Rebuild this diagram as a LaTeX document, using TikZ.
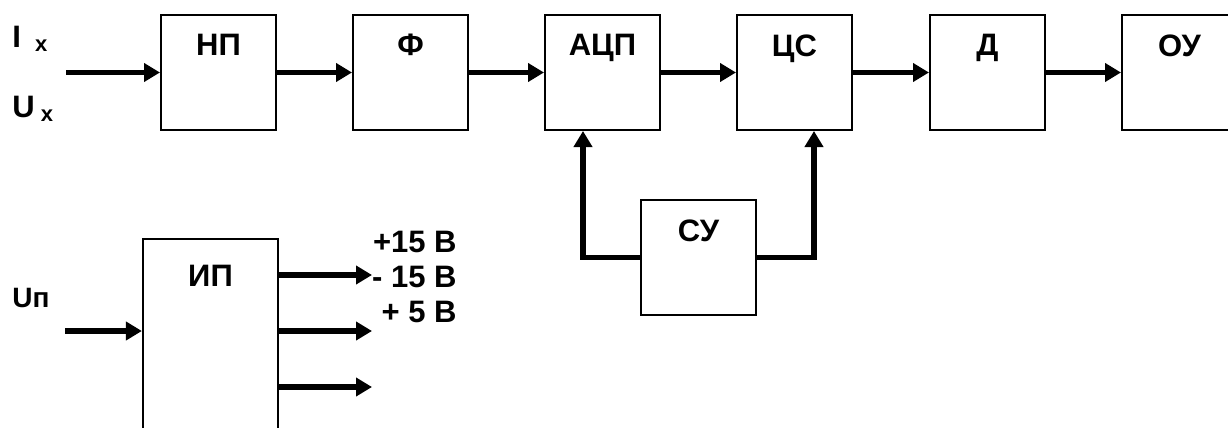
\documentclass[tikz,border=0pt]{standalone}
\usepackage{fontspec}
\setmainfont{Liberation Sans}
\usetikzlibrary{arrows.meta,positioning,calc}
\definecolor{bdink}{HTML}{000000}
\tikzset{
  blk/.style={rectangle,draw=bdink,line width=1.1pt,fill=white,
              minimum width=57.4pt,minimum height=57.4pt,inner sep=0pt},
  blkname/.style={anchor=north,inner sep=0pt,
                  font=\fontsize{15.5}{18}\selectfont\bfseries,text=bdink},
  lbl/.style={inner sep=0pt,font=\fontsize{15.5}{18}\selectfont\bfseries,text=bdink},
  sig/.style={-{Triangle[length=8pt,width=9pt]},line width=2.9pt,draw=bdink},
}
\newcommand{\lowsub}[1]{\raisebox{-2pt}{\fontsize{11}{12}\selectfont #1}}

\begin{document}
\begin{tikzpicture}[x=0.5pt,y=-0.5pt]
  \useasboundingbox (0,0) rectangle (1228,428);
  \node[blk,label={[blkname,yshift=-10pt]north:НП}]  (np)  at (218.5,72.5)  {};
  \node[blk,label={[blkname,yshift=-10pt]north:Ф}]   (flt) at (410.5,72.5)  {};
  \node[blk,label={[blkname,yshift=-10pt]north:АЦП}] (adc) at (602.5,72.5)  {};
  \node[blk,label={[blkname,yshift=-10pt]north:ЦС}]  (cs)  at (794.5,72.5)  {};
  \node[blk,label={[blkname,yshift=-10pt]north:Д}]   (dsp) at (987.5,72.5)  {};
  \node[blk,label={[blkname,yshift=-10pt]north:ОУ}]  (ou)  at (1179.5,72.5) {};
  \node[blk,label={[blkname,yshift=-10pt]north:СУ}]  (su)  at (698.5,257.5) {};
  \node[blk,minimum width=67.5pt,minimum height=125pt,
        label={[blkname,yshift=-13.5pt]north:ИП}]    (ip)  at (210.5,364)   {};
  \node[lbl,anchor=base west] (ix) at (12,47)  {I\hspace{7pt}\lowsub{x}};
  \node[lbl,anchor=base west] (ux) at (12,117) {U\hspace{3pt}\lowsub{x}};
  \node[lbl,anchor=base west,font=\fontsize{14}{16}\selectfont\bfseries] (upl) at (12,307) {Uп};
  \node[lbl,anchor=east] (v1) at (457,242) {+15 В};
  \node[lbl,anchor=east] (v2) at (457,277) {- 15 В};
  \node[lbl,anchor=east] (v3) at (457,312) {+ 5 В};
  \coordinate (inx) at (66,72.5);
  \coordinate (inp) at (65,331);
  \coordinate (o1) at (372,275);
  \coordinate (o2) at (372,331);
  \coordinate (o3) at (372,387);
  \draw[sig] (inx) -- (np.west);
  \draw[sig] (np.east) -- (flt.west);
  \draw[sig] (flt.east) -- (adc.west);
  \draw[sig] (adc.east) -- (cs.west);
  \draw[sig] (cs.east) -- (dsp.west);
  \draw[sig] (dsp.east) -- (ou.west);
  \draw[sig] (su.west) -| ([xshift=-9.75pt]adc.south);
  \draw[sig] (su.east) -| ([xshift=9.75pt]cs.south);
  \draw[sig] (inp) -- (inp -| ip.west);
  \draw[sig] (o1 -| ip.east) -- (o1);
  \draw[sig] (o2 -| ip.east) -- (o2);
  \draw[sig] (o3 -| ip.east) -- (o3);
\end{tikzpicture}
\end{document}
